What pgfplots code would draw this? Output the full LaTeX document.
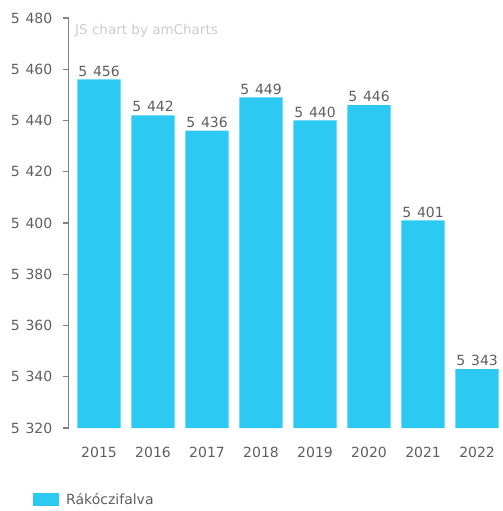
\documentclass[border=0pt]{standalone}
\usepackage{pgfplots}
\pgfplotsset{compat=1.18}
\usepackage{fontspec}
\setmainfont{DejaVu Sans}
\definecolor{barc}{RGB}{44,202,242}
\definecolor{txt}{RGB}{95,95,95}
\definecolor{axc}{RGB}{130,130,130}
\begin{document}
\fontsize{14bp}{16bp}\selectfont
\begin{tikzpicture}
\useasboundingbox (-68.5bp,-83bp) rectangle (434.5bp,428bp);
\begin{axis}[
  at={(0,0)}, anchor=south west,
  scale only axis, width=434.5bp, height=410bp,
  xmin=-0.565, xmax=7.48, ymin=5320, ymax=5480,
  ytick={5320,5340,...,5480},
  xtick={0,...,7}, xticklabels={2015,2016,2017,2018,2019,2020,2021,2022},
  axis lines*=left,
  x axis line style={draw=none},
  y axis line style={axc, line width=1.4bp},
  tick align=outside, major tick length=5bp,
  xtick style={draw=none},
  ytick style={axc, line width=1.4bp},
  every tick label/.append style={text=txt, font=\fontsize{14bp}{16bp}\selectfont},
  yticklabel style={inner sep=0pt, anchor=east, xshift=-11bp},
  xticklabel style={inner sep=0pt, anchor=north, yshift=-14bp},
  /pgf/number format/assume math mode=true,
  /pgf/number format/1000 sep={\hspace{0.42em}},
  ybar, bar width=0.8,
  nodes near coords,
  nodes near coords style={font=\fontsize{14bp}{16bp}\selectfont, text=txt, inner sep=0pt, anchor=south, yshift=3bp},
  legend style={at={(-0.0817,-0.1744)}, anchor=west, draw=none, fill=none, inner sep=0pt,
    nodes={inner sep=0pt, text=txt, font=\fontsize{14bp}{16bp}\selectfont}, column sep=7bp},
  legend image code/.code={\fill[barc] (0bp,-6.5bp) rectangle (26bp,6.5bp);},
]
\addplot[fill=barc, draw=none] coordinates {(0,5456) (1,5442) (2,5436) (3,5449) (4,5440) (5,5446) (6,5401) (7,5343)};
\addlegendentry{Rákóczifalva}
\node[anchor=west, text=gray!40, inner sep=0pt, font=\fontsize{13.5bp}{16bp}\selectfont] at (rel axis cs:0.015,0.968) {JS chart by amCharts};
\end{axis}
\end{tikzpicture}
\end{document}
